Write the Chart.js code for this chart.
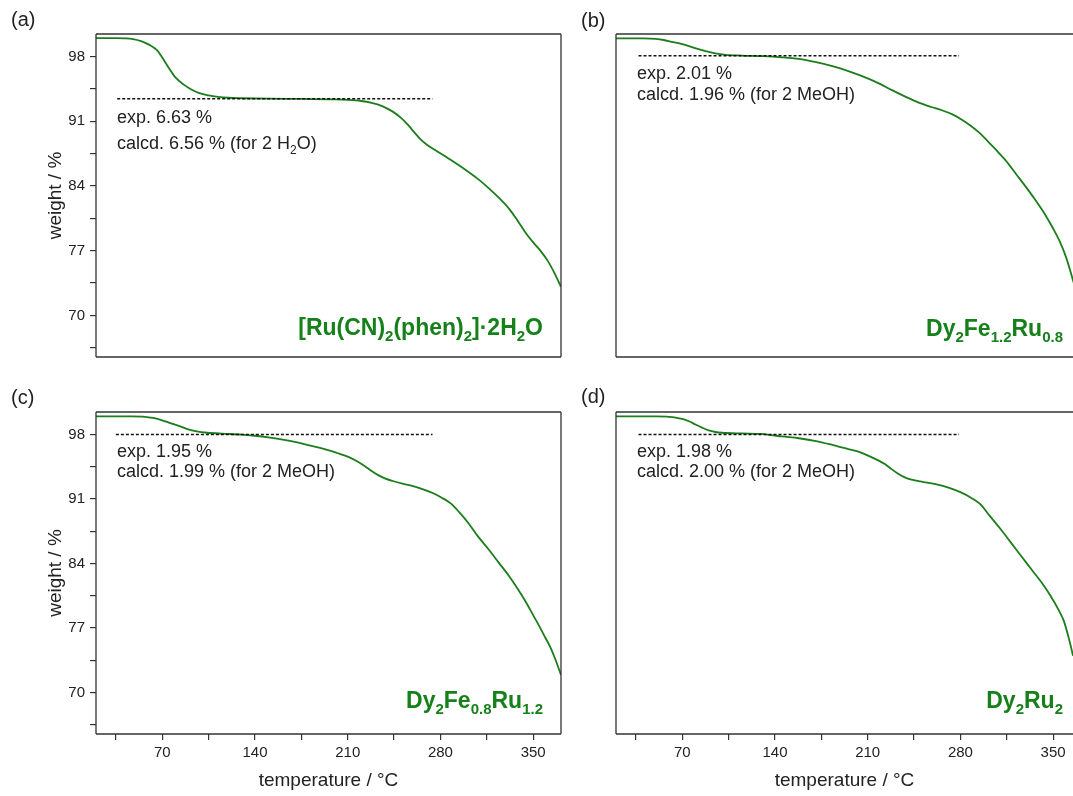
<!DOCTYPE html>
<html><head><meta charset="utf-8">
<script src="https://cdn.jsdelivr.net/npm/chart.js@4.4.1/dist/chart.umd.min.js"></script>
<style>
html,body{margin:0;padding:0;background:#fff;overflow:hidden;width:1073px;height:796px;position:relative;}
canvas{position:absolute;}
</style></head><body>
<canvas id="ca" width="575" height="380" style="left:0px;top:0px;width:575px;height:380px"></canvas>
<canvas id="cb" width="503" height="380" style="left:570px;top:0px;width:503px;height:380px"></canvas>
<canvas id="cc" width="575" height="416" style="left:0px;top:380px;width:575px;height:416px"></canvas>
<canvas id="cd" width="503" height="416" style="left:570px;top:380px;width:503px;height:416px"></canvas>
<script>
// ---------- data ----------
const tempA   = [20,35,42,48,54,60,66,70,74,80,86,92,98,105,112,120,130,150,175,200,210,220,228,236,244,250,255,260,265,270,276,287,298,308,317,325,332,338,344,350,356,361,366,371];
const weightA = [100.0,100.0,99.98,99.9,99.68,99.3,98.7,97.9,97.0,95.75,95.0,94.45,94.05,93.8,93.65,93.55,93.5,93.45,93.42,93.38,93.32,93.2,93.0,92.65,92.05,91.4,90.7,89.85,89.05,88.45,87.9,86.9,85.85,84.8,83.7,82.6,81.5,80.3,79.0,77.9,76.9,75.9,74.6,73.1];

const tempB   = [20,40,50,56,62,70,78,87,95,103,115,131,145,158,171,184,197,210,220,228,238,248,258,266,274,282,288,294,300,307,314,322,330,337,344,350,355,360,364,367];
const weightB = [99.98,99.97,99.92,99.8,99.6,99.35,99.0,98.62,98.35,98.2,98.12,98.05,97.93,97.75,97.4,96.95,96.35,95.65,95.0,94.4,93.7,93.05,92.55,92.2,91.75,91.1,90.5,89.8,88.95,87.9,86.8,85.3,83.8,82.4,80.9,79.4,78.0,76.2,74.3,72.8];

const tempC   = [20,45,57,63,70,76,83,89,96,104,115,130,140,150,161,171,181,192,202,210,217,223,228,233,238,244,252,260,268,275,281,288,294,301,308,316,324,332,339,345,350,355,359,363,367,371];
const weightC = [99.98,99.97,99.93,99.8,99.55,99.25,98.92,98.6,98.35,98.2,98.1,98.0,97.87,97.7,97.45,97.17,96.82,96.45,96.0,95.6,95.1,94.55,94.05,93.6,93.25,92.96,92.65,92.38,92.0,91.6,91.15,90.5,89.6,88.4,87.0,85.6,84.1,82.6,81.1,79.7,78.4,77.1,76.0,74.9,73.5,71.9];

const tempD   = [20,50,60,65,70,75,80,85,90,95,100,115,129,137,145,158,171,184,196,204,212,218,223,228,233,238,243,252,262,271,280,288,295,302,310,318,326,334,342,348,354,358,362,365,368];
const weightD = [99.98,99.97,99.93,99.85,99.7,99.45,99.1,98.75,98.45,98.28,98.2,98.12,98.07,97.95,97.8,97.6,97.3,96.85,96.4,96.1,95.6,95.2,94.8,94.25,93.75,93.35,93.1,92.85,92.6,92.25,91.75,91.15,90.45,89.2,87.8,86.3,84.8,83.3,81.8,80.5,79.0,77.8,75.8,74.0,72.0];

// dashed reference levels (temperature span and weight level)
const dashTempA = [36, 274];   const dashWeightA = [93.45, 93.45];
const dashTempB = [37, 279];   const dashWeightB = [98.1, 98.1];
const dashTempC = [35, 274];   const dashWeightC = [98.0, 98.0];
const dashTempD = [37, 279];   const dashWeightD = [98.0, 98.0];

// ticks
const xTickValues = [35,70,105,140,175,210,245,280,315,350];
const xTickLabels = [70,140,210,280,350];
const yTickValues = [66.5,70,73.5,77,80.5,84,87.5,91,94.5,98];
const yTickLabels = [70,77,84,91,98];

// texts
const panelLetters = ['(a)','(b)','(c)','(d)'];
const compoundLabels = ['[Ru(CN)_2(phen)_2]·2H_2O','Dy_2Fe_1.2Ru_0.8','Dy_2Fe_0.8Ru_1.2','Dy_2Ru_2'];
const expTexts = ['exp. 6.63 %','exp. 2.01 %','exp. 1.95 %','exp. 1.98 %'];
const calcdTexts = ['calcd. 6.56 % (for 2 H_2O)','calcd. 1.96 % (for 2 MeOH)','calcd. 1.99 % (for 2 MeOH)','calcd. 2.00 % (for 2 MeOH)'];

// ---------- styling ----------
const FAM = '"Liberation Sans", Arial, Helvetica, sans-serif';
const GREEN = '#1b7d1b';
const LABEL_GREEN = '#16801a';
const INK = '#222';
const FRAME = '#333';

function parseRich(str){
  const out=[]; const re=/_([0-9.]+)/g; let last=0, m;
  while((m=re.exec(str))){ if(m.index>last) out.push({t:str.slice(last,m.index),sub:false}); out.push({t:m[1],sub:true}); last=re.lastIndex; }
  if(last<str.length) out.push({t:str.slice(last),sub:false});
  return out;
}
function drawRich(ctx, str, x, y, align, size, bold, color, subScale){
  const segs=parseRich(str);
  const b=bold?'bold ':'';
  const baseF=b+size+'px '+FAM, subF=b+Math.round(size*(subScale||0.64))+'px '+FAM;
  let w=0; segs.forEach(s=>{ctx.font=s.sub?subF:baseF; w+=ctx.measureText(s.t).width;});
  let cx = align==='right'? x-w : x;
  ctx.fillStyle=color; ctx.textBaseline='alphabetic'; ctx.textAlign='left';
  segs.forEach(s=>{ctx.font=s.sub?subF:baseF; ctx.fillText(s.t,cx,y+(s.sub?size*0.25:0)); cx+=ctx.measureText(s.t).width;});
}

const panels = [
  {id:'ca', idx:0, pad:{left:0,top:34,right:14,bottom:0}, xh:23, showY:true, bottomRow:false, rightBorder:true, xmax:371,
   temp:tempA, weight:weightA, dT:dashTempA, dW:dashWeightA, letter:{x:11,y:20}, expY:89, calcY:115, labelBase:22},
  {id:'cb', idx:1, pad:{left:46,top:34,right:0,bottom:0}, xh:23, showY:false, bottomRow:false, rightBorder:false, xmax:365,
   temp:tempB, weight:weightB, dT:dashTempB, dW:dashWeightB, letter:{x:11,y:21}, expY:45, calcY:66, labelBase:21},
  {id:'cc', idx:2, pad:{left:0,top:32,right:14,bottom:0}, xh:62, showY:true, bottomRow:true, rightBorder:true, xmax:371,
   temp:tempC, weight:weightC, dT:dashTempC, dW:dashWeightC, letter:{x:11,y:18}, expY:45, calcY:65, labelBase:26},
  {id:'cd', idx:3, pad:{left:46,top:32,right:0,bottom:0}, xh:62, showY:false, bottomRow:true, rightBorder:false, xmax:365,
   temp:tempD, weight:weightD, dT:dashTempD, dW:dashWeightD, letter:{x:11,y:17}, expY:45, calcY:65, labelBase:26},
];

panels.forEach(p=>{
  const deco = {
    id:'deco'+p.idx,
    afterDraw(chart){
      const ctx=chart.ctx, a=chart.chartArea;
      ctx.save();
      // frame
      ctx.strokeStyle=FRAME; ctx.lineWidth=1.3; ctx.setLineDash([]);
      ctx.beginPath();
      ctx.moveTo(a.left, a.top); ctx.lineTo(a.left, a.bottom);
      ctx.moveTo(a.left, a.bottom); ctx.lineTo(a.right+(p.rightBorder?0:2), a.bottom);
      ctx.moveTo(a.left, a.top); ctx.lineTo(a.right+(p.rightBorder?0:2), a.top);
      if(p.rightBorder){ ctx.moveTo(a.right, a.top); ctx.lineTo(a.right, a.bottom); }
      ctx.stroke();
      // panel letter
      ctx.font='20px '+FAM; ctx.fillStyle=INK; ctx.textAlign='left'; ctx.textBaseline='middle';
      ctx.fillText(panelLetters[p.idx], p.letter.x, p.letter.y);
      // annotations
      drawRich(ctx, expTexts[p.idx], a.left+21, a.top+p.expY, 'left', 18, false, INK);
      drawRich(ctx, calcdTexts[p.idx], a.left+21, a.top+p.calcY, 'left', 18, false, INK);
      // compound label
      drawRich(ctx, compoundLabels[p.idx], a.left+447, a.bottom-p.labelBase, 'right', 23, true, LABEL_GREEN, 0.64);
      ctx.restore();
    }
  };
  new Chart(document.getElementById(p.id), {
    type:'line',
    data:{ datasets:[
      {data:p.dT.map((t,i)=>({x:t,y:p.dW[i]})), borderColor:'#111', borderWidth:1.5, borderDash:[3,2], pointRadius:0, fill:false},
      {data:p.temp.map((t,i)=>({x:t,y:p.weight[i]})), borderColor:GREEN, borderWidth:1.8, pointRadius:0, fill:false, cubicInterpolationMode:'monotone'}
    ]},
    options:{
      responsive:false, animation:false, devicePixelRatio:1,
      layout:{padding:p.pad},
      plugins:{legend:{display:false}, tooltip:{enabled:false}},
      scales:{
        x:{type:'linear', min:20, max:p.xmax,
           border:{display:false},
           grid:{display:p.bottomRow, drawOnChartArea:false, drawTicks:true, tickLength:6, color:FRAME, lineWidth:1.2},
           ticks:{display:p.bottomRow, color:INK, font:{family:FAM,size:15}, padding:4, maxRotation:0, autoSkip:false,
                  callback:v=> xTickLabels.includes(v)? String(v):''},
           afterBuildTicks:s=>{ s.ticks = xTickValues.map(v=>({value:v})); },
           afterFit:s=>{ s.height=p.xh; },
           title:{display:p.bottomRow, text:'temperature / °C', color:INK, font:{family:FAM,size:19}, padding:{top:0,bottom:4}}
        },
        y:{type:'linear', min:65.5, max:100.45, display:p.showY,
           border:{display:false},
           grid:{drawOnChartArea:false, drawTicks:true, tickLength:6, color:FRAME, lineWidth:1.2},
           ticks:{color:INK, font:{family:FAM,size:15}, padding:5, autoSkip:false,
                  callback:v=> yTickLabels.includes(v)? String(v):''},
           afterBuildTicks:s=>{ s.ticks = yTickValues.map(v=>({value:v})); },
           afterFit:s=>{ s.width = p.showY ? 96 : 0; },
           title:{display:p.showY, text:'weight / %', color:INK, font:{family:FAM,size:19}, padding:{top:44,bottom:0}}
        }
      }
    },
    plugins:[deco]
  });
});
</script>
</body></html>
